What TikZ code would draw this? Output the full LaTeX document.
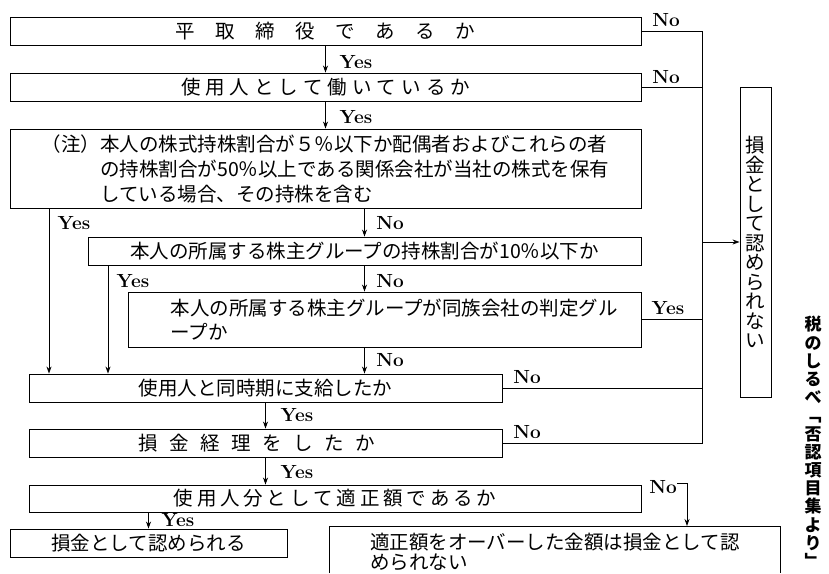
\documentclass[tikz,border=0pt]{standalone}
\usepackage{fontspec}
\newfontfamily\jp{Noto Sans CJK JP}
\usetikzlibrary{arrows.meta}
\newcommand\gapA{\hspace{20.5pt}}
\newcommand\gapB{\hspace{5pt}}
\newcommand\gapC{\hspace{11.5pt}}
\newcommand\gapD{\hspace{3.8pt}}
\begin{document}
\begin{tikzpicture}[x=1pt,y=-1pt,
  line width=0.8pt,
  box/.style={draw, line width=0.9pt, inner sep=0pt, font=\jp\fontsize{19.5}{25}\selectfont},
  lab/.style={inner sep=0pt, font=\fontsize{19}{22}\selectfont\bfseries, text height=13pt, text depth=0pt},
  arr/.style={-{Stealth[length=7pt,width=5pt]}},
]
\fill[white] (0,0) rectangle (829,573);
\useasboundingbox (0,0) rectangle (829,573);

% boxes
\node[box, minimum width=631pt, minimum height=28pt] (b1) at (325.5,31)
  {平\gapA 取\gapA 締\gapA 役\gapA で\gapA あ\gapA る\gapA か};
\node[box, minimum width=631pt, minimum height=28pt] (b2) at (325.5,87)
  {使\gapB 用\gapB 人\gapB と\gapB し\gapB て\gapB 働\gapB い\gapB て\gapB い\gapB る\gapB か};
\node[box, minimum width=631pt, minimum height=79pt, align=left] (b3) at (325.5,168.5)
  {（注）本人の株式持株割合が５％以下か配偶者およびこれらの者\\
   \hspace*{58.5pt}の持株割合が50％以上である関係会社が当社の株式を保有\\
   \hspace*{58.5pt}している場合、その持株を含む};
\node[box, minimum width=553pt, minimum height=28pt] (b4) at (364.5,251)
  {本人の所属する株主グループの持株割合が10％以下か};
\node[box, minimum width=513pt, minimum height=55pt, align=left,
      font=\jp\fontsize{19.5}{24.5}\selectfont] (b5) at (384.5,319.5)
  {\hspace*{19.5pt}本人の所属する株主グループが同族会社の判定グル\\
   \hspace*{19.5pt}ープか};
\node[box, minimum width=473pt, minimum height=28pt] (b6) at (265.5,388)
  {使用人と同時期に支給したか};
\node[box, minimum width=473pt, minimum height=28pt] (b7) at (265.5,443)
  {損\gapC 金\gapC 経\gapC 理\gapC を\gapC し\gapC た\gapC か\hspace*{18pt}};
\node[box, minimum width=612pt, minimum height=27pt] (b8) at (335,498.5)
  {使\gapD 用\gapD 人\gapD 分\gapD と\gapD し\gapD て\gapD 適\gapD 正\gapD 額\gapD で\gapD あ\gapD る\gapD か};
\node[box, minimum width=277pt, minimum height=28pt] (b9) at (148.5,543)
  {損金として認められる};
\node[box, draw=none, minimum width=450pt, minimum height=51pt, anchor=north, align=left,
      font=\jp\fontsize{19.5}{19.5}\selectfont] (b10) at (555,526)
  {適正額をオーバーした金額は損金として認\\められない};
\draw[line width=0.9pt] (b10.north west) ++(0,47) -- (b10.north west) -- (b10.north east) -- ++(0,47);
\node[box, minimum width=31pt, minimum height=310pt, align=center,
      font=\jp\fontsize{19.5}{19.5}\selectfont] (R) at (755.5,242)
  {損\\金\\と\\し\\て\\認\\め\\ら\\れ\\な\\い};
\node[inner sep=0pt, align=center, font=\jp\bfseries\fontsize{17}{18.2}\selectfont] (cap) at (813,442)
  {税\\の\\し\\る\\べ\\﹁\\否\\認\\項\\目\\集\\よ\\り\\﹂};

% labels
\node[lab] (y1) at (356,62) {Yes};
\node[lab] (y2) at (356,117) {Yes};
\node[lab] (n1) at (666,20) {No};
\node[lab] (n2) at (666,77) {No};
\node[lab] (y3) at (74,223) {Yes};
\node[lab] (n3) at (390,223) {No};
\node[lab] (y4) at (133,281) {Yes};
\node[lab] (n4) at (390,281) {No};
\node[lab] (y5) at (668,308) {Yes};
\node[lab] (n5) at (390,360) {No};
\node[lab] (n6) at (527,377) {No};
\node[lab] (y6) at (297,415) {Yes};
\node[lab] (n7) at (527,432) {No};
\node[lab] (y7) at (297,472) {Yes};
\node[lab] (n8) at (663,487) {No};
\node[lab] (y8) at (178,520) {Yes};

% connectors
\coordinate (xA) at (49,0);
\coordinate (xB) at (108,0);
\coordinate (xR) at (702,0);
\coordinate (xN) at (687,0);
\coordinate (n8s) at (677,483);

\draw[arr] (b1.south) -- (b2.north);
\draw[arr] (b2.south) -- (b3.north);
\draw[arr] (b4.north |- b3.south) -- (b4.north);
\draw[arr] (b4.south) -- (b4.south |- b5.north);
\draw[arr] (b4.south |- b5.south) -- (b4.south |- b6.north);
\draw[arr] (xA |- b3.south) -- (xA |- b6.north);
\draw[arr] (xB |- b4.south) -- (xB |- b6.north);
\draw[arr] (b6.south) -- (b7.north);
\draw[arr] (b7.south) -- (b7.south |- b8.north);
\draw[arr] (b9.north |- b8.south) -- (b9.north);
\draw[arr] (n8s) -| (b10.north -| xN);

\draw (b1.east) -- (b1.east -| xR) -- (b7.east -| xR) -- (b7.east);
\draw (b2.east) -- (b2.east -| xR);
\draw (b5.east) -- (b5.east -| xR);
\draw (b6.east) -- (b6.east -| xR);
\draw[arr] (R.west -| xR) -- (R.west);
\end{tikzpicture}
\end{document}
